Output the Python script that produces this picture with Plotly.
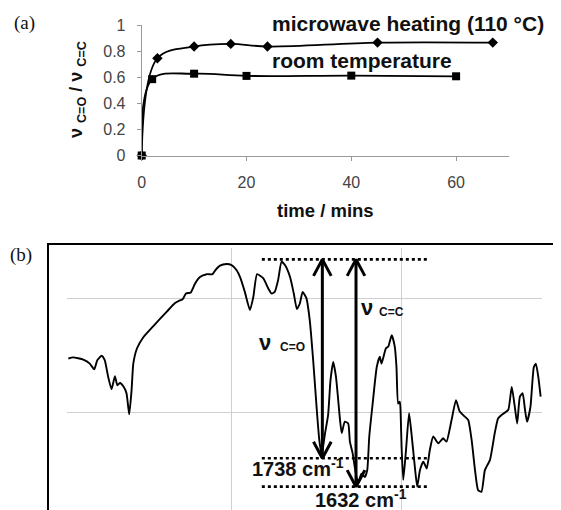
import plotly.graph_objects as go

# ---------------- Panel (a) data ----------------
time_mw = [0, 3, 10, 17, 24, 45, 67]
ratio_mw = [0, 0.745, 0.835, 0.855, 0.835, 0.865, 0.865]
time_rt = [0, 2, 10, 20, 40, 60]
ratio_rt = [0, 0.585, 0.627, 0.61, 0.612, 0.607]
x_ticks_a = [0, 20, 40, 60]
y_ticks_a = [0, 0.2, 0.4, 0.6, 0.8, 1]
y_ticktext_a = ["0", "0.2", "0.4", "0.6", "0.8", "1"]

# ---------------- Panel (b) data (IR spectrum) ----------------
wavenumber = [2481, 2467, 2437, 2418, 2405, 2396, 2383, 2374, 2364, 2354,
              2344, 2337, 2329, 2318, 2310, 2302, 2295, 2290, 2279, 2261,
              2231, 2192, 2168, 2153, 2145, 2135, 2121, 2109, 2094, 2074,
              2057, 2050, 2035, 2016, 2001, 1986, 1976, 1962, 1947, 1937,
              1926, 1908, 1893, 1883, 1874, 1864, 1854, 1844, 1829, 1818,
              1809, 1800, 1792, 1781, 1771, 1761, 1751, 1743, 1736, 1726,
              1717, 1710, 1702, 1694, 1682, 1677, 1668, 1658, 1653, 1645,
              1638, 1629, 1619, 1609, 1602, 1596, 1586, 1574, 1565, 1560,
              1547, 1540, 1530, 1521, 1516, 1511, 1506, 1503, 1501, 1496,
              1488, 1479, 1472, 1462, 1455, 1447, 1437, 1427, 1418, 1408,
              1393, 1379, 1369, 1354, 1341, 1330, 1315, 1305, 1295, 1285,
              1276, 1266, 1256, 1241, 1227, 1217, 1207, 1197, 1187, 1177,
              1168, 1161, 1153, 1145, 1138, 1132, 1122, 1112, 1106, 1099,
              1092]
transmittance = [49.4, 49.6, 49.2, 48.5, 47.5, 49.1, 49.9, 49.1, 46.2, 44.0,
                 46.3, 44.7, 45.1, 44.4, 43.3, 39.6, 43.9, 48.5, 51.2, 53.1,
                 55.1, 57.6, 59.1, 59.6, 59.8, 60.8, 61.0, 62.5, 63.7, 64.2,
                 64.2, 64.8, 65.7, 66.0, 65.8, 64.9, 63.7, 61.1, 57.9, 60.2,
                 64.2, 63.5, 61.7, 60.8, 61.1, 63.2, 66.4, 65.8, 63.7, 60.8,
                 58.1, 59.1, 61.1, 60.0, 56.1, 49.1, 40.9, 35.1, 32.5, 36.3,
                 39.5, 45.6, 48.8, 46.2, 38.6, 36.3, 38.3, 38.0, 34.8, 32.8,
                 30.1, 27.5, 29.2, 28.6, 29.8, 35.7, 41.5, 47.9, 49.7, 48.5,
                 51.2, 51.5, 53.5, 51.5, 47.9, 41.5, 41.8, 38.3, 33.9, 28.1,
                 33.3, 39.8, 36.3, 30.4, 26.9, 29.8, 31.3, 30.1, 33.3, 35.7,
                 34.5, 35.4, 34.8, 38.6, 42.1, 40.1, 39.2, 38.6, 35.1, 29.8,
                 26.3, 26.0, 29.8, 31.6, 36.3, 38.9, 39.5, 39.9, 40.4, 44.4,
                 40.9, 38.0, 42.7, 43.3, 40.4, 38.3, 40.9, 47.9, 48.5, 46.2,
                 42.7]

peak_labels = ["1738 cm<sup>-1</sup>", "1632 cm<sup>-1</sup>"]
arrow_wn = [1734, 1635]
level_top = 66.8
level_bottom = [31.9, 26.9]
dotted_span = [1912, 1424]

BLACK = "black"
SANS = "Liberation Sans, Arial, sans-serif"
SERIF = "Liberation Serif, Times New Roman, serif"
W, H = 561, 510
OFF = 8  # page body margin


def px(x):
    return (x - OFF) / W


def py(y):
    return 1 - (y - OFF) / H


fig = go.Figure()

# Panel (a)
fig.add_trace(go.Scatter(x=time_mw, y=ratio_mw, mode="lines+markers",
                         line=dict(color=BLACK, width=1.8, shape="spline"),
                         marker=dict(symbol="diamond", size=8, color=BLACK),
                         cliponaxis=False, xaxis="x", yaxis="y", showlegend=False))
fig.add_trace(go.Scatter(x=time_rt, y=ratio_rt, mode="lines+markers",
                         line=dict(color=BLACK, width=1.8, shape="spline"),
                         marker=dict(symbol="square", size=8, color=BLACK),
                         cliponaxis=False, xaxis="x", yaxis="y", showlegend=False))

# Panel (b) spectrum
fig.add_trace(go.Scatter(x=wavenumber, y=transmittance, mode="lines",
                         line=dict(color=BLACK, width=1.9, shape="spline", smoothing=0.5),
                         xaxis="x2", yaxis="y2", showlegend=False))

# dotted reference levels
for lvl in [level_top] + level_bottom:
    fig.add_trace(go.Scatter(x=dotted_span, y=[lvl, lvl], mode="lines",
                             line=dict(color=BLACK, width=2.6, dash="dot"),
                             xaxis="x2", yaxis="y2", showlegend=False))

# double-headed arrows
dw, dh = 26, 2.9
for wn, lb in zip(arrow_wn, level_bottom):
    fig.add_trace(go.Scatter(x=[wn, wn], y=[lb, level_top], mode="lines",
                             line=dict(color=BLACK, width=3),
                             xaxis="x2", yaxis="y2", showlegend=False))
    fig.add_trace(go.Scatter(x=[wn - dw, wn, wn + dw], y=[level_top - dh, level_top, level_top - dh],
                             mode="lines", line=dict(color=BLACK, width=3),
                             xaxis="x2", yaxis="y2", showlegend=False))
    fig.add_trace(go.Scatter(x=[wn - dw, wn, wn + dw], y=[lb + dh, lb, lb + dh],
                             mode="lines", line=dict(color=BLACK, width=3),
                             xaxis="x2", yaxis="y2", showlegend=False))

axis_a = dict(showline=True, linecolor="#999", linewidth=1, ticks="outside",
              ticklen=4, tickcolor="#999", showgrid=False, zeroline=False,
              automargin=False,
              tickfont=dict(family=SANS, size=16, color="#444"), ticklabelstandoff=8)

fig.update_layout(
    width=W, height=H, margin=dict(l=0, r=0, t=0, b=0, pad=0, autoexpand=False),
    paper_bgcolor="white", plot_bgcolor="white",
    xaxis=dict(domain=[px(141.7), px(508.5)], range=[0, 70], tickvals=x_ticks_a,
               anchor="y", **axis_a),
    yaxis=dict(domain=[py(155.5), py(25)], range=[0, 1], tickvals=y_ticks_a,
               ticktext=y_ticktext_a, anchor="x", **axis_a),
    xaxis2=dict(domain=[px(67), px(542)], range=[2485, 1088], tickvals=[2000, 1500],
                showticklabels=False, showgrid=True, gridcolor="#cfcfcf", gridwidth=1,
                zeroline=False, showline=False, anchor="y2", automargin=False),
    yaxis2=dict(domain=[0, py(248)], range=[21.4, 68.8], tickvals=[40, 60],
                showticklabels=False, showgrid=True, gridcolor="#cfcfcf", gridwidth=1,
                zeroline=False, showline=False, anchor="x2", automargin=False),
)

# frame around panel (b)
fig.add_shape(type="rect", xref="paper", yref="paper", x0=px(48), x1=px(558),
              y0=-0.05, y1=py(244), line=dict(color=BLACK, width=2))

ann = []


def add(text, x, y, size, family=SANS, xanchor="center", bold=True, angle=0, color="#111"):
    t = f"<b>{text}</b>" if bold else text
    ann.append(dict(text=t, x=px(x), y=py(y), xref="paper", yref="paper",
                    xanchor=xanchor, yanchor="middle", showarrow=False, textangle=angle,
                    font=dict(family=family, size=size, color=color)))


add("(a)", 12, 23, 19, family=SERIF, xanchor="left", bold=False)
add("(b)", 8, 255, 19, family=SERIF, xanchor="left", bold=False)
add("microwave heating (110 °C)", 270, 23, 21, xanchor="left")
add("room temperature", 270, 61, 21, xanchor="left")
add("time / mins", 325, 211, 18.5)
add("ν <sub>C=O</sub> / ν <sub>C=C</sub>", 78, 90, 18, angle=-90)
add("ν", 265, 342, 22)
add("C=O", 292.5, 347, 12)
add("ν", 367, 307, 22)
add("C=C", 391.5, 312, 12)
add(peak_labels[0], 250, 467, 20, xanchor="left")
add(peak_labels[1], 313, 498, 20, xanchor="left")

fig.update_layout(annotations=ann)

fig.write_html("out.html")
